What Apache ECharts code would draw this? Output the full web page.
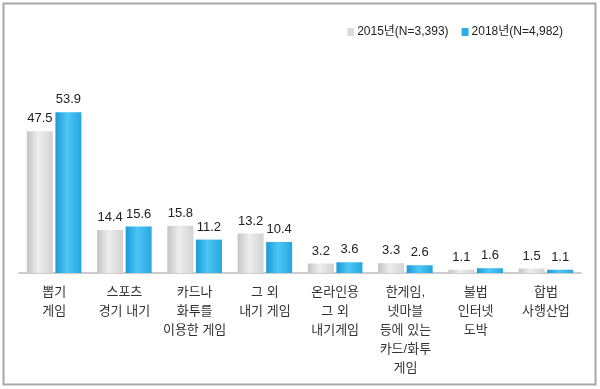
<!DOCTYPE html>
<html><head><meta charset="utf-8">
<script src="https://cdn.jsdelivr.net/npm/echarts@6/dist/echarts.min.js"></script>
<style>html,body{margin:0;padding:0;background:#fff}#c{width:600px;height:389px}</style>
</head><body><div id="c"></div>
<script>
const categories = ['뽑기\n게임','스포츠\n경기 내기','카드나\n화투를\n이용한 게임','그 외\n내기 게임','온라인용\n그 외\n내기게임','한게임,\n넷마블\n등에 있는\n카드/화투\n게임','불법\n인터넷\n도박','합법\n사행산업'];
const seriesNames = ['2015년(N=3,393)','2018년(N=4,982)'];
const values2015 = [47.5,14.4,15.8,13.2,3.2,3.3,1.1,1.5];
const values2018 = [53.9,15.6,11.2,10.4,3.6,2.6,1.6,1.1];

const FONT = '"Liberation Sans", "Noto Sans CJK KR", sans-serif';
const grayGrad = new echarts.graphic.LinearGradient(0,0,1,0,[
  {offset:0,color:'#c4c4c4'},{offset:0.45,color:'#eeeeee'},{offset:1,color:'#d2d2d2'}]);
const blueGrad = new echarts.graphic.LinearGradient(0,0,1,0,[
  {offset:0,color:'#1b9ad8'},{offset:0.45,color:'#4cc6f6'},{offset:1,color:'#27a6e0'}]);

const chart = echarts.init(document.getElementById('c'), null, {renderer:'canvas'});
chart.setOption({
  animation:false,
  textStyle:{fontFamily:FONT},
  graphic:[{type:'rect',shape:{x:3.5,y:3.5,width:592,height:381},style:{fill:'none',stroke:'#a8a8a8',lineWidth:2}}],
  legend:{
    data:[{name:seriesNames[0],icon:'rect',itemStyle:{color:'#dcdcdc'}},{name:seriesNames[1],icon:'rect',itemStyle:{color:'#2eaee6'}}],
    right:32, top:21, itemWidth:7, itemHeight:8, itemGap:13,
    textStyle:{fontSize:12,color:'#222',fontFamily:FONT,padding:[0,0,0,-2]}
  },
  grid:{left:19,right:19,top:94,bottom:116},
  xAxis:{type:'category',data:categories,
    axisLine:{lineStyle:{color:'#bdbdbd',width:1.5}},axisTick:{show:false},
    axisLabel:{interval:0,fontSize:13,color:'#333',lineHeight:19,margin:10,fontFamily:FONT}},
  yAxis:{type:'value',min:0,max:60,show:false,splitLine:{show:false}},
  series:[
    {name:seriesNames[0],type:'bar',data:values2015,barWidth:26,barGap:'10%',
     itemStyle:{color:grayGrad},
     label:{show:true,position:'top',distance:6,fontSize:13,color:'#222',fontFamily:FONT}},
    {name:seriesNames[1],type:'bar',data:values2018,barWidth:26,
     itemStyle:{color:blueGrad},
     label:{show:true,position:'top',distance:6,fontSize:13,color:'#222',fontFamily:FONT}}
  ]
});
</script></body></html>
